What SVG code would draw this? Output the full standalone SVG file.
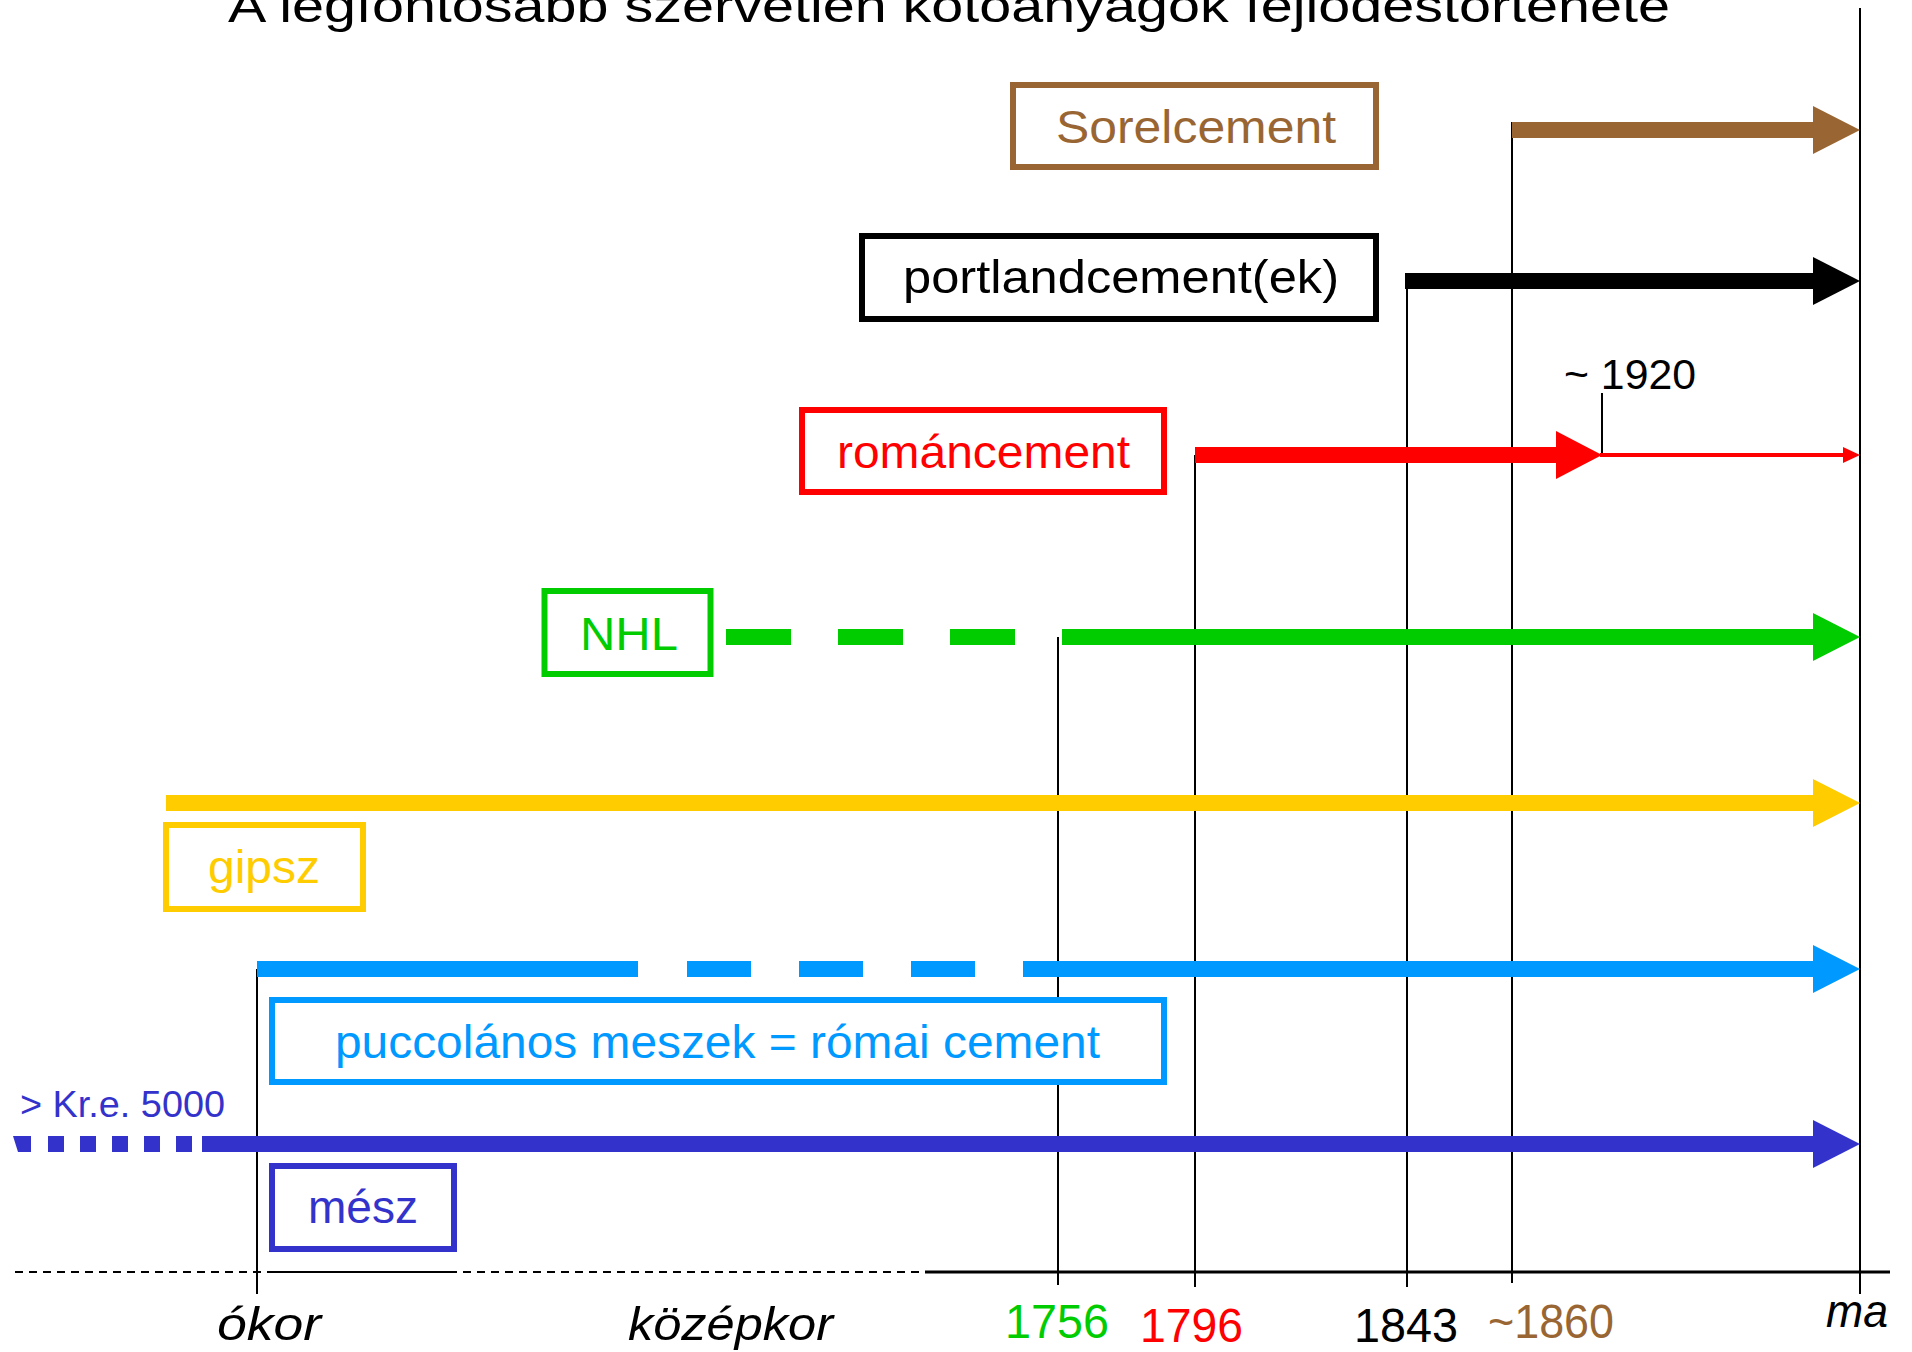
<svg xmlns="http://www.w3.org/2000/svg" width="1912" height="1352" viewBox="0 0 1912 1352">
<style>
text{font-family:"Liberation Sans",Arial,sans-serif;font-size:46px;text-anchor:start}
.box{fill:#fff;stroke-width:6}
.v{stroke:#000;stroke-width:2;fill:none}
.sh{stroke-width:16;fill:none}
.it{font-style:italic;fill:#000}
.yr{font-size:48px}
</style>
<defs>
<marker id="hBrown" markerUnits="userSpaceOnUse" markerWidth="48" markerHeight="48" refX="0" refY="24" orient="auto"><path d="M0,0 L47,24 L0,48 Z" fill="#996633"/></marker>
<marker id="hBlack" markerUnits="userSpaceOnUse" markerWidth="48" markerHeight="48" refX="0" refY="24" orient="auto"><path d="M0,0 L47,24 L0,48 Z" fill="#000"/></marker>
<marker id="hRed" markerUnits="userSpaceOnUse" markerWidth="48" markerHeight="48" refX="0" refY="24" orient="auto"><path d="M0,0 L46,24 L0,48 Z" fill="#FF0000"/></marker>
<marker id="hRedS" markerUnits="userSpaceOnUse" markerWidth="18" markerHeight="18" refX="0" refY="8" orient="auto"><path d="M0,0 L17,8 L0,16 Z" fill="#FF0000"/></marker>
<marker id="hGreen" markerUnits="userSpaceOnUse" markerWidth="48" markerHeight="48" refX="0" refY="24" orient="auto"><path d="M0,0 L47,24 L0,48 Z" fill="#00CC00"/></marker>
<marker id="hYellow" markerUnits="userSpaceOnUse" markerWidth="48" markerHeight="48" refX="0" refY="24" orient="auto"><path d="M0,0 L47,24 L0,48 Z" fill="#FFCC00"/></marker>
<marker id="hLBlue" markerUnits="userSpaceOnUse" markerWidth="48" markerHeight="48" refX="0" refY="24" orient="auto"><path d="M0,0 L47,24 L0,48 Z" fill="#0099FF"/></marker>
<marker id="hBlue" markerUnits="userSpaceOnUse" markerWidth="48" markerHeight="48" refX="0" refY="24" orient="auto"><path d="M0,0 L47,24 L0,48 Z" fill="#3333CC"/></marker>
</defs>
<rect width="1912" height="1352" fill="#fff"/>

<text id="title" x="228" y="22" textLength="1442" lengthAdjust="spacingAndGlyphs">A legfontosabb szervetlen kötőanyagok fejlődéstörténete</text>

<g id="axis">
<line x1="15" y1="1272" x2="925" y2="1272" stroke="#000" stroke-width="2" stroke-dasharray="8 6"/>
<line x1="270" y1="1272" x2="450" y2="1272" stroke="#000" stroke-width="2"/>
<line x1="925" y1="1272" x2="1890" y2="1272" stroke="#000" stroke-width="3"/>
<line class="v" x1="257" y1="969" x2="257" y2="1294"/>
<line class="v" x1="1058" y1="637" x2="1058" y2="1285"/>
<line class="v" x1="1195" y1="455" x2="1195" y2="1287"/>
<line class="v" x1="1407" y1="281" x2="1407" y2="1287"/>
<line class="v" x1="1512" y1="122" x2="1512" y2="1283"/>
<line class="v" x1="1602" y1="393" x2="1602" y2="455"/>
<line class="v" x1="1860" y1="8" x2="1860" y2="1294" stroke-width="2.5"/>
</g>

<g id="connectors">
<line class="sh" x1="1512" y1="130" x2="1813" y2="130" stroke="#996633" marker-end="url(#hBrown)"/>
<line class="sh" x1="1405" y1="281" x2="1813" y2="281" stroke="#000" marker-end="url(#hBlack)"/>
<line class="sh" x1="1195" y1="455" x2="1556" y2="455" stroke="#FF0000" marker-end="url(#hRed)"/>
<line x1="1600" y1="455" x2="1843" y2="455" stroke="#FF0000" stroke-width="4" marker-end="url(#hRedS)"/>
<line class="sh" x1="726" y1="637" x2="1015" y2="637" stroke="#00CC00" stroke-dasharray="65 47"/>
<line class="sh" x1="1062" y1="637" x2="1813" y2="637" stroke="#00CC00" marker-end="url(#hGreen)"/>
<line class="sh" x1="166" y1="803" x2="1813" y2="803" stroke="#FFCC00" marker-end="url(#hYellow)"/>
<line class="sh" x1="257" y1="969" x2="638" y2="969" stroke="#0099FF"/>
<line class="sh" x1="687" y1="969" x2="976" y2="969" stroke="#0099FF" stroke-dasharray="64 48"/>
<line class="sh" x1="1023" y1="969" x2="1813" y2="969" stroke="#0099FF" marker-end="url(#hLBlue)"/>
<polygon points="13,1136 31,1136 31,1152 18,1152" fill="#3333CC"/>
<line class="sh" x1="48" y1="1144" x2="192" y2="1144" stroke="#3333CC" stroke-dasharray="16 16"/>
<line class="sh" x1="202" y1="1144" x2="1813" y2="1144" stroke="#3333CC" marker-end="url(#hBlue)"/>
</g>

<g id="node-sorel">
<rect class="box" x="1013" y="85" width="363" height="82" stroke="#996633" stroke-width="5"/>
<text x="1056" y="143" fill="#996633" textLength="280" lengthAdjust="spacingAndGlyphs">Sorelcement</text>
</g>
<g id="node-portland">
<rect class="box" x="862" y="236" width="514" height="83" stroke="#000"/>
<text x="903" y="293" fill="#000" textLength="436" lengthAdjust="spacingAndGlyphs">portlandcement(ek)</text>
</g>
<g id="node-roman">
<rect class="box" x="802" y="410" width="362" height="82" stroke="#FF0000"/>
<text x="837" y="468" fill="#FF0000" textLength="293" lengthAdjust="spacingAndGlyphs">románcement</text>
</g>
<g id="node-nhl">
<rect class="box" x="544.5" y="591" width="166" height="83" stroke="#00CC00" stroke-width="5"/>
<text x="580" y="650" fill="#00CC00" textLength="98" lengthAdjust="spacingAndGlyphs">NHL</text>
</g>
<g id="node-gipsz">
<rect class="box" x="166" y="825" width="197" height="84" stroke="#FFCC00"/>
<text x="208" y="883" fill="#FFCC00" textLength="112" lengthAdjust="spacingAndGlyphs">gipsz</text>
</g>
<g id="node-pucc">
<rect class="box" x="272" y="1000" width="892" height="82" stroke="#0099FF"/>
<text x="335" y="1058" fill="#0099FF" textLength="765" lengthAdjust="spacingAndGlyphs">puccolános meszek = római cement</text>
</g>
<g id="node-mesz">
<rect class="box" x="272" y="1166" width="182" height="83" stroke="#3333CC"/>
<text x="308" y="1223" fill="#3333CC" textLength="110" lengthAdjust="spacingAndGlyphs">mész</text>
</g>

<g id="labels">
<text x="20" y="1117" fill="#3333CC" style="font-size:36px" textLength="205" lengthAdjust="spacingAndGlyphs">&gt; Kr.e. 5000</text>
<text x="1564" y="389" fill="#000" style="font-size:42px" textLength="132" lengthAdjust="spacingAndGlyphs">~ 1920</text>
<text class="it" x="217" y="1340" textLength="104" lengthAdjust="spacingAndGlyphs">ókor</text>
<text class="it" x="628" y="1340" textLength="205" lengthAdjust="spacingAndGlyphs">középkor</text>
<text class="yr" x="1005" y="1338" fill="#00CC00" textLength="104" lengthAdjust="spacingAndGlyphs">1756</text>
<text class="yr" x="1140" y="1342" fill="#FF0000" textLength="103" lengthAdjust="spacingAndGlyphs">1796</text>
<text class="yr" x="1354" y="1342" fill="#000" textLength="104" lengthAdjust="spacingAndGlyphs">1843</text>
<text class="yr" x="1488" y="1338" fill="#996633" textLength="126" lengthAdjust="spacingAndGlyphs">~1860</text>
<text class="it" x="1826" y="1327" textLength="62" lengthAdjust="spacingAndGlyphs">ma</text>
</g>
</svg>
